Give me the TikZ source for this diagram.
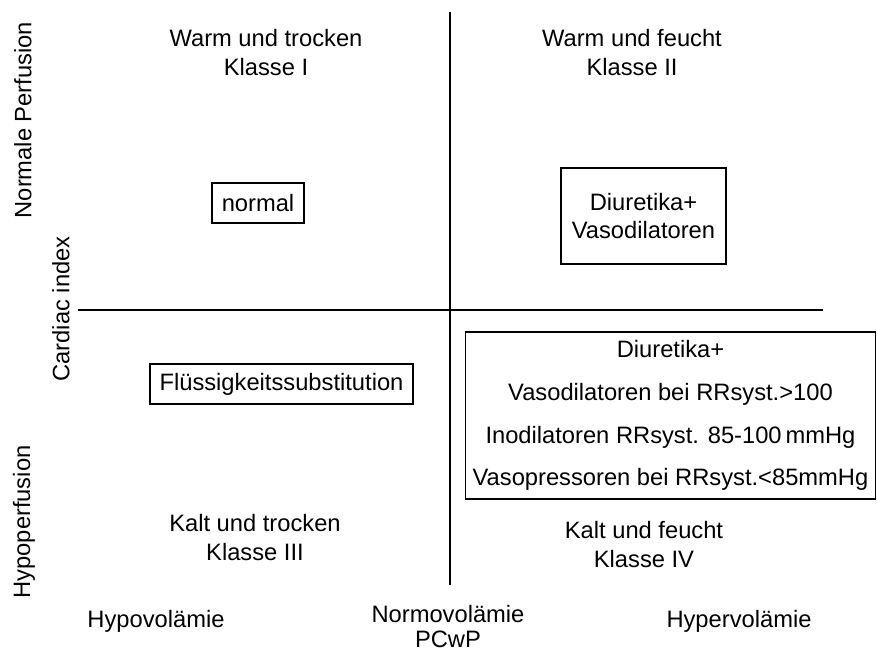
\documentclass[tikz,border=0pt]{standalone}
\usepackage{fontspec}
\setmainfont{Liberation Sans}

\begin{document}
\begin{tikzpicture}[x=0.02cm,y=-0.02cm,
    lbl/.style={align=center,font=\fontsize{13.5}{16.5}\selectfont},
    tbox/.style={draw,line width=0.6pt,align=center,inner sep=0pt,font=\fontsize{13.5}{15.5}\selectfont}]
    \useasboundingbox (0,0) rectangle (877,653);
    % axes
    \coordinate (top) at (450,12);
    \coordinate (bottom) at (450,585);
    \coordinate (left) at (78,310);
    \coordinate (right) at (823,310);
    \draw[line width=0.6pt] (top)--(bottom);
    \draw[line width=0.6pt] (left)--(right);
    % quadrant titles
    \node[lbl] (wt) at (266,53) {Warm und trocken\\Klasse I};
    \node[lbl] (wf) at (632,53) {Warm und feucht\\Klasse II};
    \node[lbl] (kt) at (255,538) {Kalt und trocken\\Klasse III};
    \node[lbl] (kf) at (644,545) {Kalt und feucht\\Klasse IV};
    % therapy boxes
    \node[tbox,minimum width=1.84cm,minimum height=0.8cm] (normal) at (258,203) {normal};
    \node[tbox,minimum width=3.3cm,minimum height=1.92cm] (diur) at (643.5,216) {Diuretika+\\Vasodilatoren};
    \node[tbox,minimum width=5.26cm,minimum height=0.8cm] (fluid) at (281.5,384) {Flüssigkeitssubstitution};
    \node[tbox,minimum width=8.22cm,minimum height=3.34cm,font=\fontsize{13.5}{24.4}\selectfont] (pressor) at (670.5,415.5)
        {Diuretika+\\Vasodilatoren bei RRsyst.>100\\Inodilatoren RRsyst. 85-100\,mmHg\\Vasopressoren bei RRsyst.<85mmHg};
    % axis labels
    \node[lbl] (hypo) at (156,621) {Hypovolämie};
    \node[lbl,font=\fontsize{13.5}{14.5}\selectfont,anchor=south,inner sep=0.3pt] (normo) at (448,649) {Normovolämie\\PCwP};
    \node[lbl] (hyper) at (739,621) {Hypervolämie};
    \node[lbl,rotate=90] (normperf) at (23,120) {Normale Perfusion};
    \node[lbl,rotate=90] (ci) at (61,309) {Cardiac index};
    \node[lbl,rotate=90] (hypoperf) at (24,522) {Hypoperfusion};
\end{tikzpicture}
\end{document}
